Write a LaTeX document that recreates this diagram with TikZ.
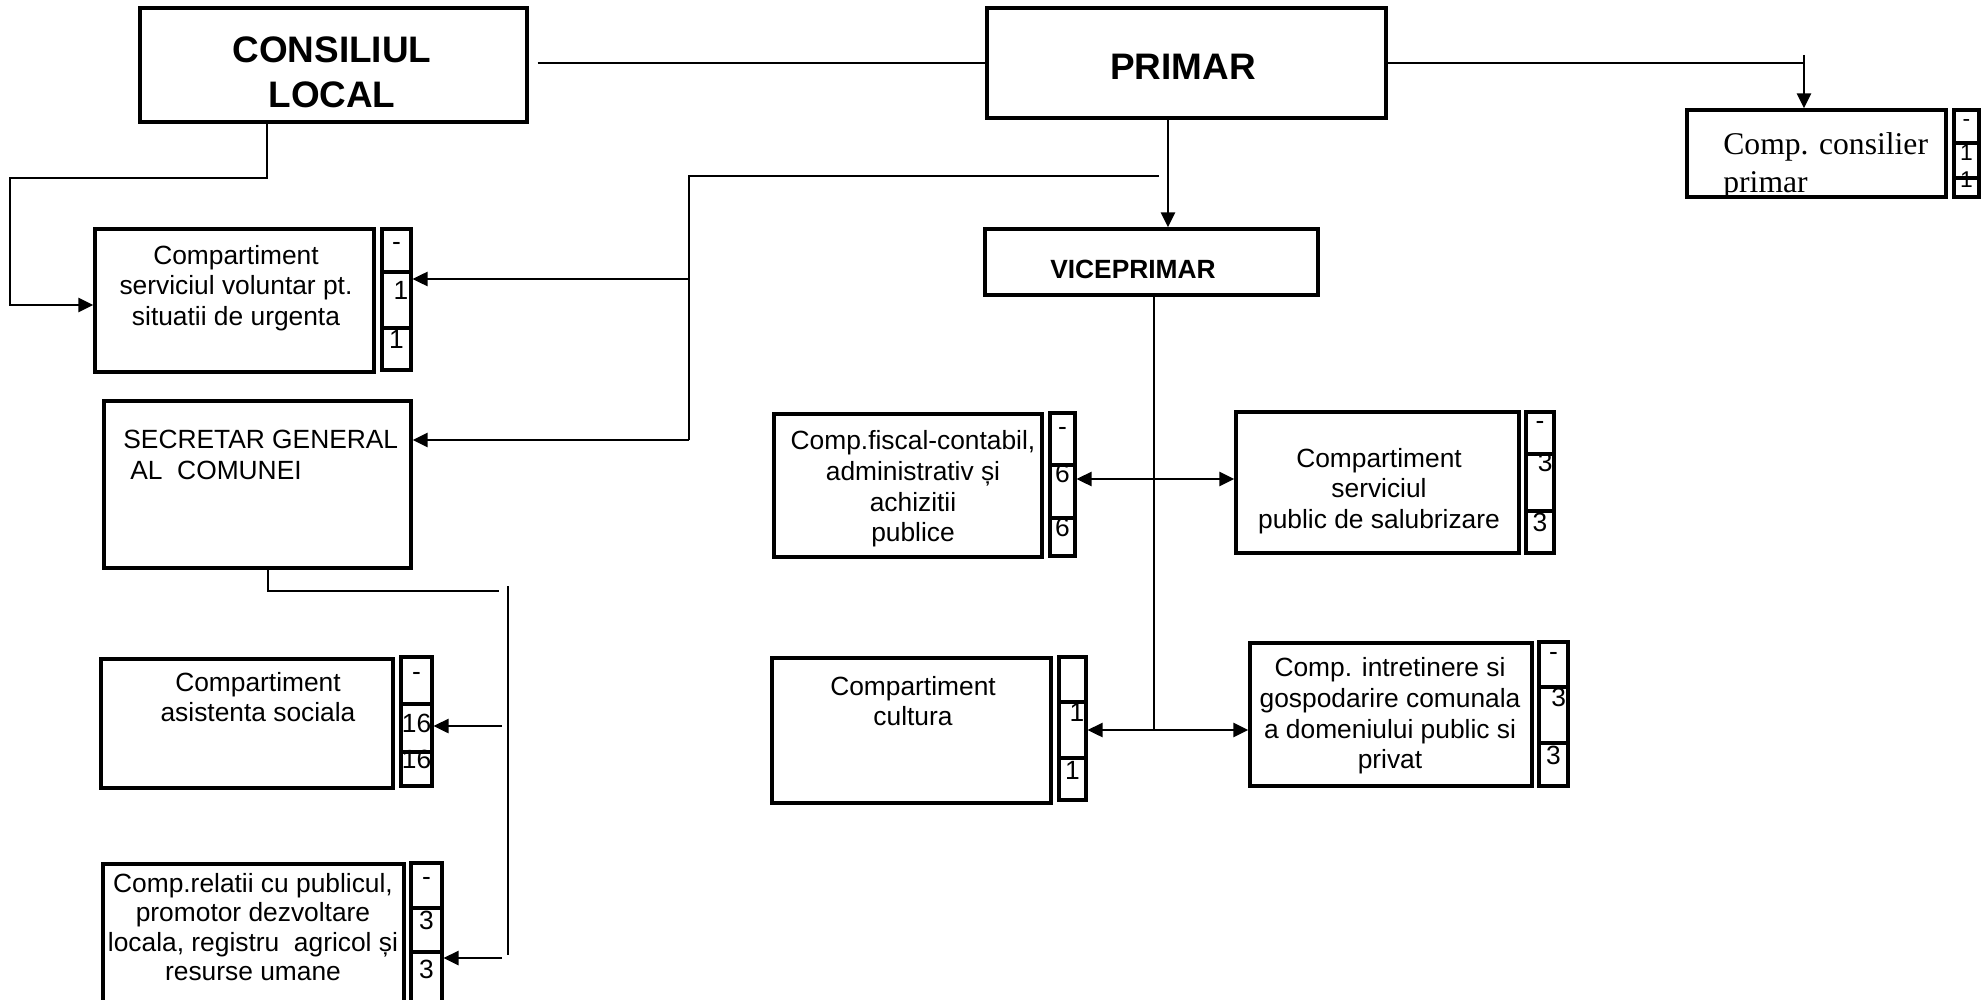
\documentclass[tikz,border=0pt]{standalone}
\usepackage{fontspec}
\setmainfont{Liberation Sans}
\newfontfamily\timesf{Liberation Serif}
\usetikzlibrary{fit,arrows.meta}

\tikzset{
  box/.style={draw, line width=2pt, inner sep=0pt},
  cell/.style={draw, line width=1.8pt, inner sep=0pt, font=\fontsize{15}{17}\selectfont},
  txt/.style={align=center, inner sep=0pt, font=\fontsize{15}{17.5}\selectfont},
  conn/.style={line width=1.4pt},
  arr/.style={conn, -{Triangle[length=8.5pt,width=8pt]}},
  darr/.style={conn, {Triangle[length=8.5pt,width=8pt]}-{Triangle[length=8.5pt,width=8pt]}},
}

\begin{document}
\begin{tikzpicture}[x=0.02cm, y=-0.02cm]
        \useasboundingbox (0,0) rectangle (1982,1000);
        % conducere
        \node[box, fit={(140,8) (527,122)}] (cl) {};
        \node[txt, font=\bfseries\fontsize{21}{25.5}\selectfont] (cltxt) at (332,72) {CONSILIUL\\LOCAL};
        \node[box, fit={(987,8) (1386,118)}] (primar) {};
        \node[txt, font=\bfseries\fontsize{21}{25.5}\selectfont] (primartxt) at (1183,67) {PRIMAR};
        \node[box, fit={(985,229) (1318,295)}] (vice) {};
        \node[txt, font=\bfseries\fontsize{15}{17.5}\selectfont] (vicetxt) at (1133,269) {VICEPRIMAR};
        \node[box, fit={(1687,110) (1946,197)}] (cons) {};
        \node[txt, align=left, anchor=west, font=\timesf\fontsize{18}{21.5}\selectfont] (constxt) at (1723,166) {Comp. consilier\\primar};
        \node[cell, font=\fontsize{13}{15}\selectfont, fit={(1954,110) (1979,143)}] (cons1) {-};
        \node[cell, font=\fontsize{13}{15}\selectfont, fit={(1954,143) (1979,178)}] (cons2) {1};
        \node[cell, font=\fontsize{13}{15}\selectfont, fit={(1954,178) (1979,197)}] (cons3) {1};

        % stanga
        \node[box, fit={(95,229) (374,372)}] (svsu) {};
        \node[txt] (svsutxt) at (236,288) {Compartiment\\serviciul voluntar pt.\\situatii de urgenta};
        \node[cell, fit={(382,229) (411,272)}] (svsu1) {-};
        \node[cell, fit={(382,272) (411,328)}] (svsu2) {\hspace*{5pt}1};
        \node[cell, fit={(382,328) (411,370)}] (svsu3) {1};
        \node[box, fit={(104,401) (411,568)}] (sg) {};
        \node[txt, align=left, anchor=west] (sgtxt) at (123,455) {SECRETAR GENERAL\\\hspace*{4pt}AL\ \ COMUNEI};
        \node[box, fit={(101,659) (393,788)}] (asist) {};
        \node[txt] (asisttxt) at (258,697) {Compartiment\\asistenta sociala};
        \node[cell, fit={(401,657) (432,704)}] (asist1) {-};
        \node[cell, fit={(401,704) (432,752)}] (asist2) {\raisebox{-5pt}{16}};
        \node[cell, fit={(401,752) (432,786)}] (asist3) {16};
        \node[box, fit={(103,864) (404,1006)}] (rel) {};
        \node[txt, font=\fontsize{15}{16.7}\selectfont] (reltxt) at (253,927) {Comp.relatii cu publicul,\\promotor dezvoltare\\locala, registru\ \ agricol și\\resurse umane};
        \node[cell, fit={(411,863) (442,908)}] (rel1) {-};
        \node[cell, fit={(411,908) (442,952)}] (rel2) {3};
        \node[cell, fit={(411,952) (442,1006)}] (rel3) {3};

        % dreapta
        \node[box, fit={(774,414) (1042,557)}] (fis) {};
        \node[txt] (fistxt) at (913,489) {Comp.fiscal-contabil,\\administrativ și\\achizitii\\publice};
        \node[cell, fit={(1050,413) (1075,465)}] (fis1) {\raisebox{2pt}{-}};
        \node[cell, fit={(1050,465) (1075,518)}] (fis2) {\raisebox{5pt}{6}};
        \node[cell, fit={(1050,518) (1075,556)}] (fis3) {6};
        \node[box, fit={(1236,412) (1519,553)}] (sal) {};
        \node[txt] (saltxt) at (1379,491) {Compartiment\\serviciul\\public de salubrizare};
        \node[cell, fit={(1526,412) (1554,454)}] (sal1) {\raisebox{2pt}{-}};
        \node[cell, fit={(1526,454) (1554,511)}] (sal2) {\hspace*{6pt}\raisebox{6pt}{3}};
        \node[cell, fit={(1526,511) (1554,553)}] (sal3) {3};
        \node[box, fit={(772,658) (1051,803)}] (cult) {};
        \node[txt] (culttxt) at (913,701) {Compartiment\\cultura};
        \node[cell, fit={(1059,657) (1086,702)}] (cult1) {};
        \node[cell, fit={(1059,702) (1086,758)}] (cult2) {\hspace*{5pt}\raisebox{5pt}{1}};
        \node[cell, fit={(1059,758) (1086,800)}] (cult3) {1};
        \node[box, fit={(1250,643) (1532,786)}] (intr) {};
        \node[txt] (intrtxt) at (1390,716) {Comp. intretinere si\\gospodarire comunala\\a domeniului public si\\privat};
        \node[cell, fit={(1539,642) (1568,687)}] (intr1) {\raisebox{2pt}{-}};
        \node[cell, fit={(1539,687) (1568,743)}] (intr2) {\hspace*{6pt}\raisebox{5pt}{3}};
        \node[cell, fit={(1539,743) (1568,786)}] (intr3) {3};

        % legaturi
        \coordinate (clb) at (267,122);
        \coordinate (cla) at (10,305);
        \coordinate (pv) at (1168,118);
        \coordinate (pc) at (1804,55);
        \coordinate (vb) at (1159,176);
        \coordinate (sgy) at (689,440);
        \coordinate (svy) at (689,279);
        \coordinate (sgb) at (268,568);
        \coordinate (sgr) at (499,591);
        \coordinate (rt) at (508,586);
        \coordinate (rb) at (508,955);
        \coordinate (asy) at (502,726);
        \coordinate (rey) at (502,958);
        \coordinate (vd) at (1154,295);
        \coordinate (fy) at (1154,479);
        \coordinate (cy) at (1154,730);
        \draw[conn, shorten <=5pt] (cl.east |- primar.west) -- (primar.west);
        \draw[conn] (primar.east) -- (primar.east -| pc);
        \draw[arr] (pc) -- (pc |- cons.north);
        \draw[arr] (pv) -- (pv |- vice.north);
        \draw[arr] (clb) -- ++(0,56) -| (cla) -- (cla -| svsu.west);
        \draw[conn] (vb) -| (sgy);
        \draw[arr] (sgy) -- (sgy -| sg.east);
        \draw[arr] (svy) -- (svy -| svsu2.east);
        \draw[conn] (sgb) |- (sgr);
        \draw[conn] (rt) -- (rb);
        \draw[arr] (asy) -- (asy -| asist2.east);
        \draw[arr] (rey) -- (rey -| rel3.east);
        \draw[conn] (vd) -- (cy);
        \draw[darr] (fy -| fis2.east) -- (fy -| sal.west);
        \draw[darr] (cy -| cult2.east) -- (cy -| intr.west);
\end{tikzpicture}
\end{document}
